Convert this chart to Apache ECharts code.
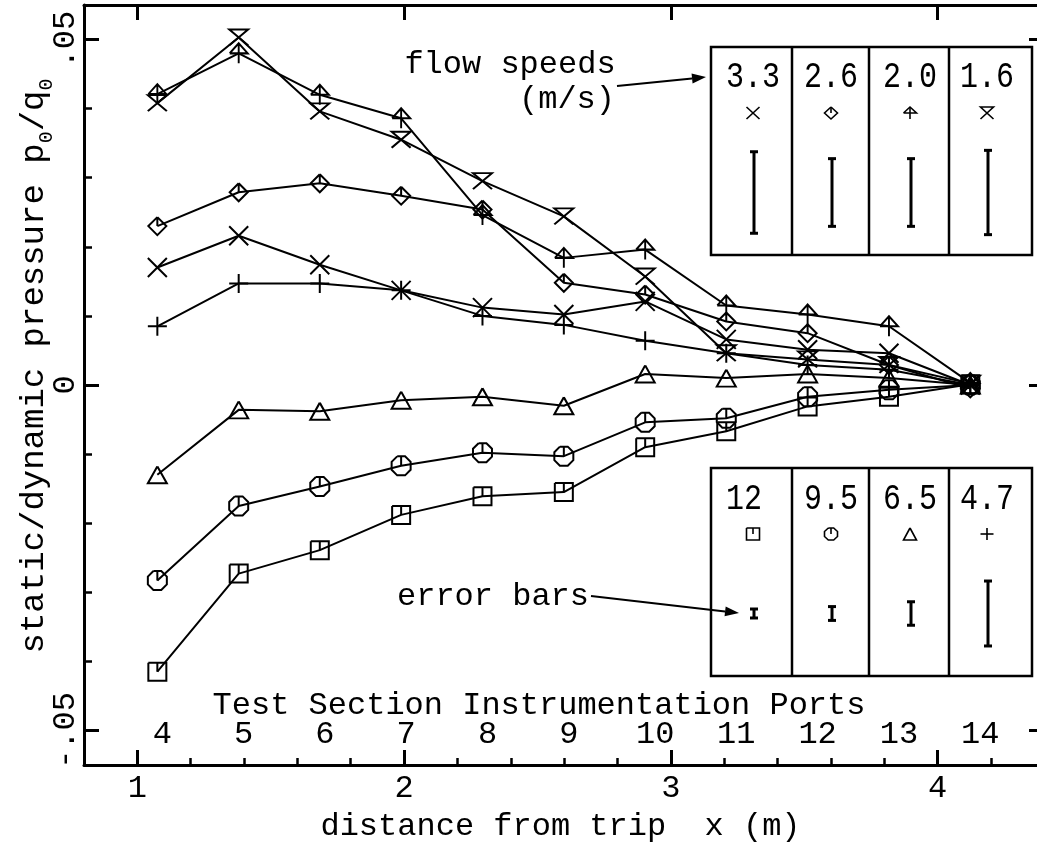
<!DOCTYPE html>
<html>
<head>
<meta charset="utf-8">
<script src="https://cdn.jsdelivr.net/npm/echarts@6/dist/echarts.min.js"></script>
<style>
  html, body { margin: 0; padding: 0; background: #fff; }
  #chart { width: 1037px; height: 847px; }
</style>
</head>
<body>
<div id="chart"></div>
<script>
// Instrumentation port numbers and their streamwise position x (m)
const portNumbers = [4, 5, 6, 7, 8, 9, 10, 11, 12, 13, 14];
const portX = [1.075, 1.380, 1.684, 1.989, 2.294, 2.599, 2.904, 3.208, 3.513, 3.818, 4.123];

// static/dynamic pressure p0/q0 at each port, one list per flow speed (m/s)
const cp33 = [0.0170, 0.0216, 0.0174, 0.0137, 0.0112, 0.0102, 0.0121, 0.0066, 0.0051, 0.0046, 0.0000];
const cp26 = [0.0230, 0.0279, 0.0292, 0.0274, 0.0254, 0.0148, 0.0131, 0.0092, 0.0075, 0.0029, -0.0005];
const cp20 = [0.0421, 0.0480, 0.0420, 0.0386, 0.0246, 0.0184, 0.0196, 0.0115, 0.0102, 0.0085, 0.0003];
const cp16 = [0.0408, 0.0503, 0.0396, 0.0355, 0.0295, 0.0244, 0.0157, 0.0046, 0.0037, 0.0029, 0.0002];
const cp120 = [-0.0415, -0.0273, -0.0239, -0.0188, -0.0161, -0.0155, -0.0090, -0.0067, -0.0031, -0.0017, 0.0001];
const cp95 = [-0.0283, -0.0175, -0.0147, -0.0117, -0.0098, -0.0103, -0.0054, -0.0048, -0.0017, -0.0007, 0.0000];
const cp65 = [-0.0130, -0.0036, -0.0038, -0.0022, -0.0017, -0.0030, 0.0016, 0.0010, 0.0016, 0.0010, 0.0000];
const cp47 = [0.0085, 0.0147, 0.0147, 0.0137, 0.0100, 0.0087, 0.0064, 0.0046, 0.0029, 0.0022, 0.0000];

// legend boxes: speed labels and error-bar half widths (p0/q0 units)
const speedsUpper = ['3.3', '2.6', '2.0', '1.6'];
const errUpper = [0.0059, 0.0049, 0.0049, 0.0061];
const speedsLower = ['12', '9.5', '6.5', '4.7'];
const errLower = [0.00065, 0.0010, 0.0017, 0.0047];

// axis ticks and labels
const xMinorTicks = [1.0, 1.2, 1.4, 1.6, 1.8, 2.0, 2.2, 2.4, 2.6, 2.8, 3.0, 3.2, 3.4, 3.6, 3.8, 4.0, 4.2];
const xMajorTicks = [1, 2, 3, 4];
const yMinorTicks = [-0.05, -0.04, -0.03, -0.02, -0.01, 0, 0.01, 0.02, 0.03, 0.04, 0.05];
const yMajorTicks = [-0.05, 0, 0.05];
const yTickText = { '-0.05': '-.05', '0': '0', '0.05': '.05' };

const FONT = 'Liberation Mono';
const INK = '#000';

// hollow marker outlines, unit square [-1,1]
const shapes = {
  cross:     [[[-1, -1], [1, 1]], [[1, -1], [-1, 1]]],
  diamond:   [[[0, -1], [1, 0], [0, 1], [-1, 0], [0, -1]], [[0, -1], [0, 0]]],
  arrow:     [[[-1, 0], [0, -1], [1, 0], [-1, 0]], [[0, -1], [0, 1]]],
  hourglass: [[[1, 1], [-1, -1], [1, -1], [-1, 1]]],
  square:    [[[-1, -1], [1, -1], [1, 1], [-1, 1], [-1, -1]], [[0, -1], [0, 0]]],
  octagon:   [[[-0.414, -1], [0.414, -1], [1, -0.414], [1, 0.414], [0.414, 1], [-0.414, 1], [-1, 0.414], [-1, -0.414], [-0.414, -1]], [[0, -1], [0, 0]]],
  triangle:  [[[0, -1], [1, 1], [-1, 1], [0, -1]]],
  plus:      [[[-1, 0], [1, 0]], [[0, -1], [0, 1]]]
};
function toSymbol(segs) {
  return 'path://' + segs.map(s => 'M ' + s.map(p => p[0] + ' ' + p[1]).join(' L ')).join(' ');
}

const seriesDefs = [
  { name: '3.3', values: cp33, shape: 'cross', size: [19, 19] },
  { name: '2.6', values: cp26, shape: 'diamond', size: [18, 18] },
  { name: '2.0', values: cp20, shape: 'arrow', size: [18, 20] },
  { name: '1.6', values: cp16, shape: 'hourglass', size: [19, 16] },
  { name: '12', values: cp120, shape: 'square', size: [18, 18] },
  { name: '9.5', values: cp95, shape: 'octagon', size: [19, 19] },
  { name: '6.5', values: cp65, shape: 'triangle', size: [19, 17] },
  { name: '4.7', values: cp47, shape: 'plus', size: [19, 19] }
];

const textStyle = { fontFamily: FONT, fontSize: 32, color: INK };
const axisLineStyle = { color: INK, width: 3 };
const X_MIN = 0.8, X_MAX = 4.373;

const chart = echarts.init(document.getElementById('chart'), null, { renderer: 'canvas' });

const option = {
  animation: false,
  backgroundColor: '#fff',
  grid: { left: 84, right: 0, top: 5, bottom: 82, containLabel: false, outerBoundsMode: 'none' },
  xAxis: [
    {
      type: 'value', min: X_MIN, max: X_MAX, position: 'bottom',
      name: 'distance from trip  x (m)', nameLocation: 'middle', nameGap: 46,
      nameTextStyle: textStyle,
      axisLine: { show: true, onZero: false, lineStyle: axisLineStyle },
      axisTick: { show: true, inside: true, length: 7, customValues: xMinorTicks, lineStyle: { color: INK, width: 2.5 } },
      axisLabel: { show: true, customValues: xMajorTicks, margin: 8, formatter: v => String(v), ...textStyle },
      splitLine: { show: false }
    },
    {
      type: 'value', min: X_MIN, max: X_MAX, position: 'bottom',
      axisLine: { show: false, onZero: false },
      axisTick: { show: true, inside: true, length: 15, customValues: xMajorTicks, lineStyle: { color: INK, width: 3 } },
      axisLabel: { show: false }, splitLine: { show: false }
    },
    {
      type: 'value', min: X_MIN, max: X_MAX, position: 'top',
      axisLine: { show: true, onZero: false, lineStyle: axisLineStyle },
      axisTick: { show: true, inside: true, length: 15, customValues: xMajorTicks, lineStyle: { color: INK, width: 3 } },
      axisLabel: { show: false }, splitLine: { show: false }
    }
  ],
  yAxis: [
    {
      type: 'value', min: -0.055, max: 0.055, position: 'left',
      axisLine: { show: true, onZero: false, lineStyle: axisLineStyle },
      axisTick: { show: true, inside: true, length: 8, customValues: yMinorTicks, lineStyle: { color: INK, width: 2.5 } },
      axisLabel: {
        show: true, customValues: yMajorTicks, rotate: 90, margin: 2,
        formatter: v => yTickText[String(Math.round(v * 100) / 100)] ?? String(v),
        ...textStyle
      },
      splitLine: { show: false }
    },
    {
      type: 'value', min: -0.055, max: 0.055, position: 'left',
      axisLine: { show: false, onZero: false },
      axisTick: { show: true, inside: true, length: 15, customValues: yMajorTicks, lineStyle: { color: INK, width: 3 } },
      axisLabel: { show: false }, splitLine: { show: false }
    },
    {
      type: 'value', min: -0.055, max: 0.055, position: 'right',
      axisLine: { show: false, onZero: false },
      axisTick: { show: true, inside: true, length: 8, customValues: yMajorTicks, lineStyle: { color: INK, width: 3 } },
      axisLabel: { show: false }, splitLine: { show: false }
    }
  ],
  series: seriesDefs.map(d => ({
    type: 'line',
    name: d.name,
    xAxisIndex: 0, yAxisIndex: 0,
    data: portX.map((x, i) => [x, d.values[i]]),
    symbol: toSymbol(shapes[d.shape]),
    symbolSize: d.size,
    showSymbol: true,
    showAllSymbol: true,
    clip: false,
    lineStyle: { color: INK, width: 2 },
    itemStyle: { color: 'rgba(0,0,0,0)', borderColor: INK, borderWidth: 2 },
    emphasis: { disabled: true },
    silent: true
  }))
};

chart.setOption(option);

// annotations, port labels and legend boxes, placed after the scales exist
const px = v => chart.convertToPixel({ xAxisIndex: 0 }, v);
const py = v => chart.convertToPixel({ yAxisIndex: 0 }, v);
const g = [];

function addText(x, y, s, size, align, extra) {
  g.push(Object.assign({
    type: 'text', x, y, silent: true,
    style: {
      text: s, fontFamily: FONT, fontSize: size, fill: INK,
      align: align || 'center', verticalAlign: 'middle',
      textAlign: align || 'center', textVerticalAlign: 'middle'
    }
  }, extra || {}));
}
function addLine(x1, y1, x2, y2, w) {
  g.push({ type: 'line', silent: true, shape: { x1, y1, x2, y2 }, style: { stroke: INK, lineWidth: w } });
}
function addArrow(x1, y1, x2, y2) {
  const ang = Math.atan2(y2 - y1, x2 - x1);
  const L = 14, W = 5;
  const bx = x2 - L * Math.cos(ang), by = y2 - L * Math.sin(ang);
  addLine(x1, y1, bx, by, 2);
  g.push({
    type: 'polygon', silent: true,
    shape: { points: [[x2, y2], [bx + W * Math.sin(ang), by - W * Math.cos(ang)], [bx - W * Math.sin(ang), by + W * Math.cos(ang)]] },
    style: { fill: INK }
  });
}
function addMarker(cx, cy, shape, w, h) {
  shapes[shape].forEach(seg => {
    g.push({
      type: 'polyline', silent: true,
      shape: { points: seg.map(p => [cx + p[0] * w / 2, cy + p[1] * h / 2]) },
      style: { stroke: INK, lineWidth: 1.6, fill: null }
    });
  });
}
function addErrorBar(cx, cy, half) {
  const len = py(0) - py(half);
  addLine(cx, cy - len, cx, cy + len, 3);
  addLine(cx - 4, cy - len, cx + 4, cy - len, 3);
  addLine(cx - 4, cy + len, cx + 4, cy + len, 3);
}

// vertical axis title with subscripted zeros
g.push({
  type: 'text', x: 31, y: 366, rotation: Math.PI / 2, silent: true,
  style: {
    text: '{n|static/dynamic pressure p}{s|0}{n|/q}{s|0}',
    align: 'center', verticalAlign: 'middle', textAlign: 'center', textVerticalAlign: 'middle',
    fill: INK,
    rich: {
      n: { fontFamily: FONT, fontSize: 34, fill: INK, color: INK, verticalAlign: 'bottom', lineHeight: 40 },
      s: { fontFamily: FONT, fontSize: 20, fill: INK, color: INK, verticalAlign: 'bottom', lineHeight: 40, padding: [0, 0, -6, 0] }
    }
  }
});

// instrumentation port row
addText(539, 706, 'Test Section Instrumentation Ports', 32);
portNumbers.forEach((n, i) => {
  const s = String(n);
  addText(px(portX[i]) + 5 * s.length, 735, s, 32);
});

// legend boxes
const cellEdges = [711, 792, 869, 949, 1032];
const cellCenters = [753, 831, 910, 987];
function addBox(top, bottom) {
  g.push({ type: 'rect', silent: true, shape: { x: cellEdges[0], y: top, width: cellEdges[4] - cellEdges[0], height: bottom - top }, style: { stroke: INK, lineWidth: 2.5, fill: '#fff' } });
  for (let k = 1; k < 4; k++) addLine(cellEdges[k], top, cellEdges[k], bottom, 2.5);
}
addBox(47, 255);
addBox(468, 676);

const upperShapes = ['cross', 'diamond', 'arrow', 'hourglass'];
const lowerShapes = ['square', 'octagon', 'triangle', 'plus'];
speedsUpper.forEach((s, k) => {
  addText(cellCenters[k], 77, s, 30, 'center', { scaleY: 1.2, originX: 0, originY: 0 });
  addMarker(cellCenters[k], 113, upperShapes[k], 13, 12);
  addErrorBar(cellCenters[k] + 1, 192.5, errUpper[k]);
});
speedsLower.forEach((s, k) => {
  addText(cellCenters[k] - (k === 0 ? 9 : 0), 499, s, 30, 'center', { scaleY: 1.2, originX: 0, originY: 0 });
  addMarker(cellCenters[k], 534, lowerShapes[k], 13, 12);
  addErrorBar(cellCenters[k] + 1, 613.5, errLower[k]);
});

// "flow speeds" callout
addText(510, 65, 'flow speeds', 32);
addText(615, 100, '(m/s)', 32, 'right');
addArrow(617, 86, 706, 77);

// "error bars" callout, its arrow reaching into the first cell
addText(493, 597, 'error bars', 32);
addArrow(591, 596, 739, 613);

chart.setOption({ graphic: { elements: g } });
</script>
</body>
</html>
